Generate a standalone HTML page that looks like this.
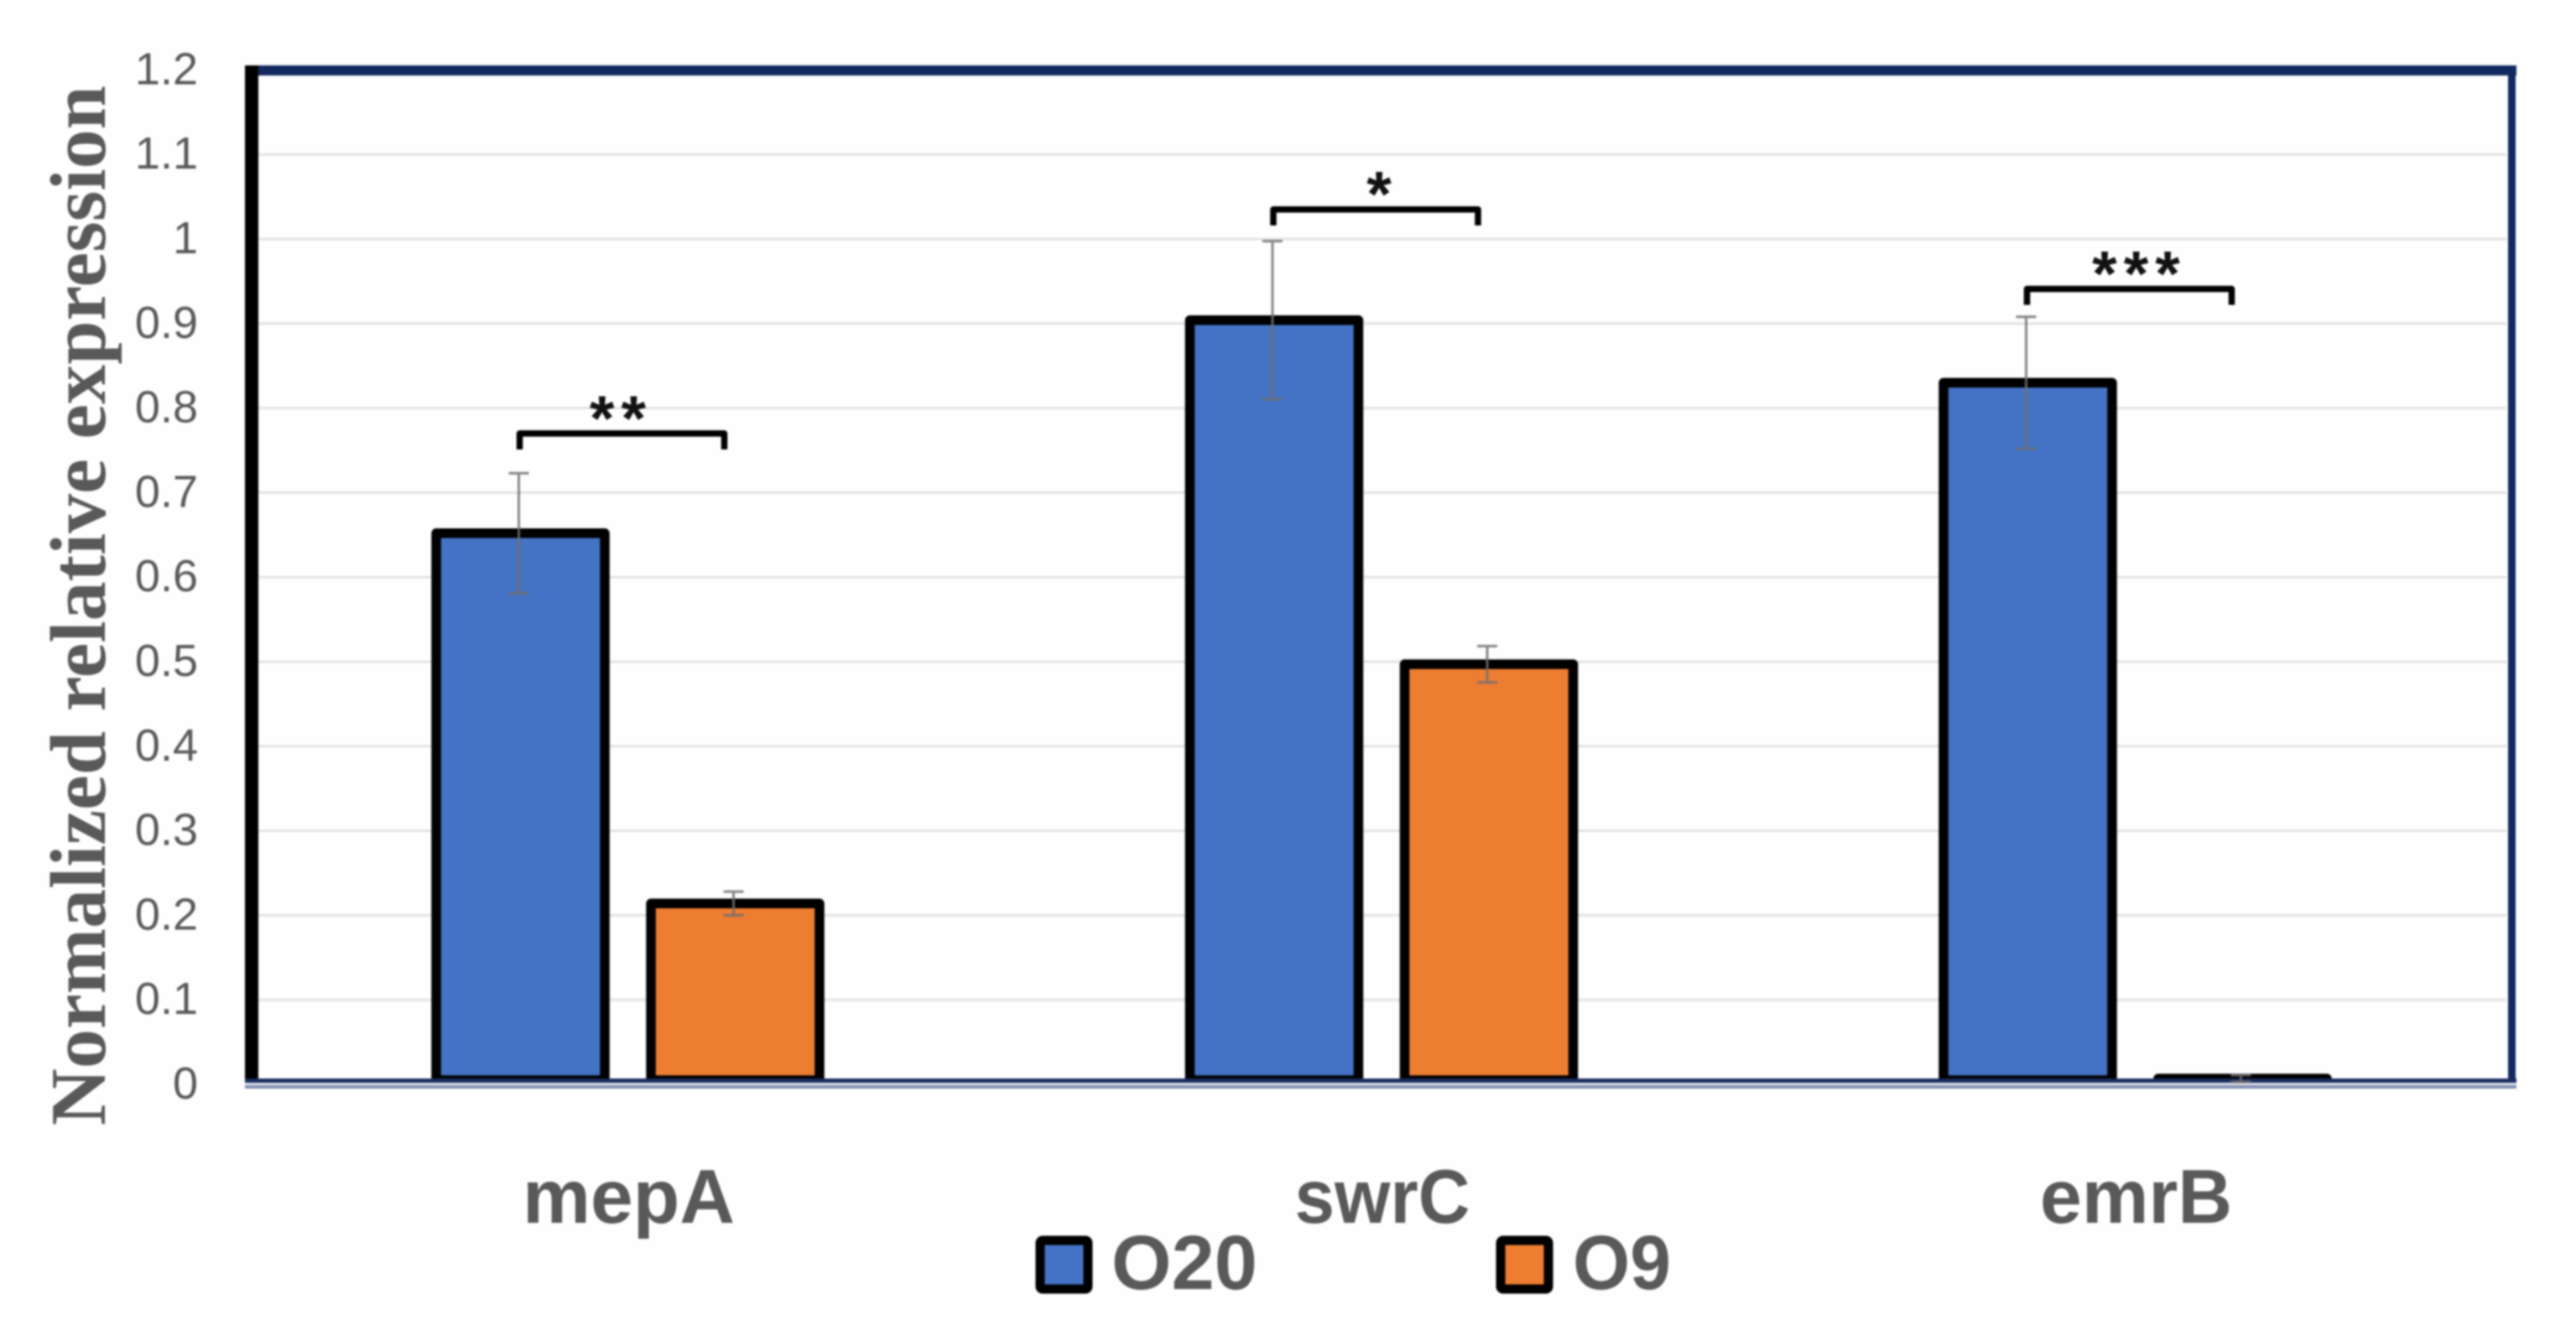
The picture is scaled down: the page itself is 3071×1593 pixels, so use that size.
<!DOCTYPE html>
<html lang="en">
<head>
<meta charset="utf-8">
<title>Normalized relative expression chart</title>
<style>
  html, body { margin: 0; padding: 0; background: #fefefe; }
  body { width: 3071px; height: 1593px; overflow: hidden; }
  svg { display: block; filter: blur(1.1px); }
  .tick { font-family: "Liberation Sans", sans-serif; font-size: 54px; fill: #595959; text-anchor: end; }
  .cat { font-family: "Liberation Sans", sans-serif; font-weight: 700; font-size: 91px; fill: #595959; }
  .legend-text { font-family: "Liberation Sans", sans-serif; font-weight: 700; font-size: 92px; fill: #595959; }
  .title { font-family: "Liberation Serif", serif; font-weight: 700; font-size: 94px; fill: #595959; }
  .star { font-family: "Liberation Sans", sans-serif; font-weight: 700; font-size: 76px; fill: #111; text-anchor: middle; }
</style>
</head>
<body>
<svg id="chart" xmlns="http://www.w3.org/2000/svg" width="3071" height="1593" viewBox="0 0 3071 1593">
  <rect x="0" y="0" width="3071" height="1593" fill="#fefefe"/>
  <g id="grid"></g>
  <g id="bars"></g>
  <g id="frame">
    <rect x="292" y="78" width="2708" height="12" fill="#12295f"/>
    <rect x="2990" y="78" width="9" height="1217" fill="#12295f"/>
    <rect x="292" y="78" width="16" height="1217" fill="#000000"/>
    <rect x="292" y="1286" width="2708" height="5" fill="#1a2d60"/>
    <rect x="292" y="1291" width="2708" height="3" fill="#dfe2ec"/>
    <rect x="292" y="1294" width="2708" height="4" fill="#8590b5"/>
  </g>
  <g id="errors"></g>
  <g id="brackets"></g>
  <g id="ticks"></g>
  <g id="cats"></g>
  <text class="title" transform="translate(125,1342) rotate(-90)" textLength="1240" lengthAdjust="spacingAndGlyphs">Normalized relative expression</text>
  <g>
    <g>
      <rect x="1240" y="1479" width="57" height="58" rx="3" fill="#4472c4" stroke="#000" stroke-width="11"/>
      <text class="legend-text" x="1325" y="1537" textLength="174" lengthAdjust="spacingAndGlyphs">O20</text>
    </g>
    <g>
      <rect x="1789" y="1479" width="57" height="58" rx="3" fill="#ed7d31" stroke="#000" stroke-width="11"/>
      <text class="legend-text" x="1875" y="1537" textLength="117" lengthAdjust="spacingAndGlyphs">O9</text>
    </g>
  </g>
</svg>
<script>
const categories = ['mepA', 'swrC', 'emrB'];
const o20Values = [0.652, 0.904, 0.830];
const o9Values = [0.214, 0.497, 0.007];
const o20Errors = [0.071, 0.0935, 0.078];
const o9Errors = [0.014, 0.0215, 0.004];
const yTicks = [0, 0.1, 0.2, 0.3, 0.4, 0.5, 0.6, 0.7, 0.8, 0.9, 1, 1.1, 1.2];
const significance = ['**', '*', '***'];
const bracketLevels = [0.770, 1.035, 0.941];

const NS = 'http://www.w3.org/2000/svg';
const yZero = 1293;
const yPerUnit = 1008;
const groupStart = 748.5;
const groupStep = 898.5;
const barOffset = 128;
const barWidth = 201;
const starShift = { mepA: -4, swrC: 8, emrB: 6 };
const labelWidth = { mepA: 253, swrC: 209, emrB: 229 };

function yScale(v) { return yZero - v * yPerUnit; }
function groupX(i) { return groupStart + i * groupStep; }

function make(tag, attrs, parent) {
  const el = document.createElementNS(NS, tag);
  for (const k in attrs) el.setAttribute(k, attrs[k]);
  parent.appendChild(el);
  return el;
}

const gridG = document.getElementById('grid');
const ticksG = document.getElementById('ticks');
yTicks.forEach(function (t) {
  if (t > 0 && t < 1.2) {
    const line = make('line', { x1: 308, x2: 2988, y1: yScale(t), y2: yScale(t), stroke: '#e3e3e3', 'stroke-width': 3 }, gridG);
    
    
  }
  const label = make('text', { class: 'tick', x: 236, y: yScale(t) + 17 }, ticksG);
  label.textContent = String(t);
  
  
});

const barsG = document.getElementById('bars');
const errorsG = document.getElementById('errors');
const bracketsG = document.getElementById('brackets');
const catsG = document.getElementById('cats');

function drawBar(cx, value, fill, name) {
  const top = yScale(value);
  const bar = make('rect', {
    x: cx - barWidth / 2, y: top, width: barWidth, height: Math.max(1, 1288 - top),
    fill: fill, stroke: '#000', 'stroke-width': 11.5, 'stroke-linejoin': 'round'
  }, barsG);
  
  
}

function drawError(cx, value, err, name) {
  const hi = yScale(value + err);
  const lo = Math.min(yScale(value - err), 1290);
  const g = make('g', { stroke: '#707070', 'stroke-width': 3, fill: 'none', opacity: 0.85 }, errorsG);
  
  
  make('line', { x1: cx, x2: cx, y1: hi, y2: lo }, g);
  make('line', { x1: cx - 12, x2: cx + 12, y1: hi, y2: hi }, g);
  make('line', { x1: cx - 12, x2: cx + 12, y1: lo, y2: lo }, g);
}

categories.forEach(function (cat, i) {
  const cx = groupX(i);
  const blueX = cx - barOffset;
  const orangeX = cx + barOffset;
  drawBar(blueX, o20Values[i], '#4472c4', 'bar-o20-' + cat);
  drawBar(orangeX, o9Values[i], '#ed7d31', 'bar-o9-' + cat);
  drawError(blueX - 2, o20Values[i], o20Errors[i], 'error-bar-o20-' + cat);
  drawError(orangeX - 2, o9Values[i], o9Errors[i], 'error-bar-o9-' + cat);

  const by = yScale(bracketLevels[i]);
  const bracket = make('path', {
    d: 'M' + (blueX - 1) + ' ' + (by + 19) + 'V' + by + 'H' + (blueX + 243) + 'V' + (by + 19),
    fill: 'none', stroke: '#000', 'stroke-width': 7.5, 'stroke-linejoin': 'round'
  }, bracketsG);
  
  

  const star = make('text', { class: 'star', x: blueX + 121 + (significance[i].length - 1) * 3 + starShift[cat], y: by + 8, 'letter-spacing': '8' }, bracketsG);
  star.textContent = significance[i];
  
  

  const width = labelWidth[cat];
  const label = make('text', { class: 'cat', x: cx + 1 - width / 2, y: 1458, textLength: width, lengthAdjust: 'spacingAndGlyphs' }, catsG);
  label.textContent = cat;
  
  
});
</script>
</body>
</html>
